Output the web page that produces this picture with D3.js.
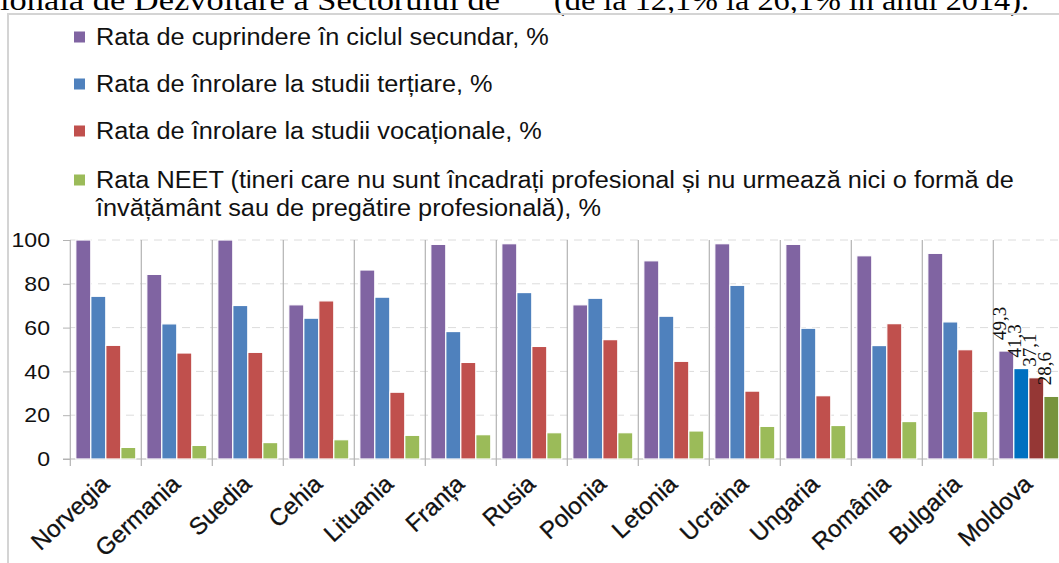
<!DOCTYPE html>
<html>
<head>
<meta charset="utf-8">
<script src="https://cdn.jsdelivr.net/npm/d3@7"></script>
<style>
  body { margin: 0; background: #fff; }
  svg { display: block; }
</style>
</head>
<body>
<svg id="chart" width="1059" height="563"></svg>
<script>
// data
var countries = ["Norvegia", "Germania", "Suedia", "Cehia", "Lituania", "Franța", "Rusia",
                 "Polonia", "Letonia", "Ucraina", "Ungaria", "România", "Bulgaria", "Moldova"];
var secundar   = [100, 84.3, 100, 70.4, 86.3, 98.0, 98.3, 70.4, 90.5, 98.3, 98.0, 92.8, 93.9, 49.3];
var tertiar    = [74.3, 61.7, 70.1, 64.3, 73.9, 58.2, 76.0, 73.4, 65.2, 79.3, 59.7, 51.8, 62.6, 41.3];
var vocational = [51.9, 48.4, 48.7, 72.2, 30.5, 44.1, 51.4, 54.5, 44.6, 31.0, 28.9, 61.8, 49.9, 37.1];
var neet       = [5.3, 6.2, 7.5, 8.8, 10.8, 11.1, 12.0, 12.0, 12.8, 14.9, 15.3, 17.1, 21.7, 28.6];

var seriesNames = [
  "Rata de cuprindere în ciclul secundar, %",
  "Rata de înrolare la studii terțiare, %",
  "Rata de înrolare la studii vocaționale, %",
  "Rata NEET (tineri care nu sunt încadrați profesional și nu urmează nici o formă de|învățământ sau de pregătire profesională), %"
];
var yTicks = [0, 20, 40, 60, 80, 100];
var highlight = "Moldova";

var colors = ["#8064A2", "#4F81BD", "#C0504D", "#9BBB59"];
var highlightColors = ["#8064A2", "#0070C0", "#953735", "#77933C"];

var sansFont = "'Liberation Sans', Arial, sans-serif";
var serifFont = "'Liberation Serif', 'DejaVu Serif', serif";
var stretch = 1.1; // the source picture is a bit wider than tall

var svg = d3.select("#chart");
var allSeries = [secundar, tertiar, vocational, neet];

// widen a text along its baseline
function widen(sel, k) {
  sel.each(function () {
    var w = this.getComputedTextLength();
    d3.select(this).attr("textLength", w * k).attr("lengthAdjust", "spacingAndGlyphs");
  });
}

// document text cut at the top
svg.append("text")
   .attr("x", 0).attr("y", 10)
   .style("font-family", serifFont)
   .style("font-size", "30px")
   .attr("textLength", 500).attr("lengthAdjust", "spacingAndGlyphs")
   .text("ională de Dezvoltare a Sectorului de");
svg.append("text")
   .attr("x", 554).attr("y", 10)
   .style("font-family", serifFont)
   .style("font-size", "30px")
   .attr("textLength", 475).attr("lengthAdjust", "spacingAndGlyphs")
   .text("(de la 12,1% la 26,1% în anul 2014).");

// frame
svg.append("path")
   .attr("d", "M8,563 V14 H1059")
   .attr("fill", "none")
   .attr("stroke", "#d4d4d4")
   .attr("stroke-width", 2);

// legend
var legendY = [37, 84, 131, 180];
var legend = svg.append("g");
seriesNames.forEach(function (name, i) {
  legend.append("rect")
        .attr("x", 74).attr("y", legendY[i] - 5.5)
        .attr("width", 11).attr("height", 11)
        .attr("fill", colors[i]);
  name.split("|").forEach(function (line, j) {
    legend.append("text")
          .attr("x", 96)
          .attr("y", legendY[i] + 8 + j * 28)
          .style("font-family", sansFont)
          .style("font-size", "23px")
          .attr("fill", "#111")
          .text(line)
          .call(widen, stretch);
  });
});

// scales
var y = d3.scaleLinear().domain([0, 100]).range([459, 240]);
var x0 = d3.scaleBand().domain(countries).range([70.3, 70.3 + 71 * countries.length]);
var x1 = d3.scaleBand().domain(d3.range(4)).range([5.5, 65.5]);

// dashed grid
svg.append("g")
   .selectAll("line")
   .data(yTicks.filter(function (t) { return t > 0; }))
   .enter()
   .append("line")
   .attr("x1", 70).attr("x2", 1059)
   .attr("y1", function (d) { return y(d); })
   .attr("y2", function (d) { return y(d); })
   .attr("stroke", "#dcdcdc")
   .attr("stroke-dasharray", "8,6");

// category separators
svg.append("g")
   .selectAll("line")
   .data(countries)
   .enter()
   .append("line")
   .attr("x1", function (d) { return x0(d); })
   .attr("x2", function (d) { return x0(d); })
   .attr("y1", y(100)).attr("y2", y(0) + 7)
   .attr("stroke", "#b3b3b3")
   .attr("stroke-width", 1.2);

// y axis
svg.append("g")
   .attr("transform", "translate(70,0)")
   .call(d3.axisLeft(y).tickValues(yTicks).tickSize(7).tickPadding(13))
   .call(function (g) { g.select(".domain").remove(); })
   .call(function (g) { g.selectAll(".tick line").attr("stroke", "#b3b3b3"); })
   .call(function (g) {
     g.selectAll(".tick text")
      .style("font-family", sansFont)
      .style("font-size", "21px")
      .attr("fill", "#111")
      .call(widen, stretch);
   });

// x axis line
svg.append("line")
   .attr("x1", 63).attr("x2", 1059)
   .attr("y1", y(0)).attr("y2", y(0))
   .attr("stroke", "#b3b3b3")
   .attr("stroke-width", 1.2);

// bars
var groups = svg.append("g")
   .selectAll("g")
   .data(countries)
   .enter()
   .append("g")
   .attr("transform", function (d) { return "translate(" + x0(d) + ",0)"; });

groups.selectAll("rect")
   .data(function (c, ci) {
     return allSeries.map(function (s, si) { return { c: c, s: si, v: s[ci] }; });
   })
   .enter()
   .append("rect")
   .attr("x", function (d) { return x1(d.s); })
   .attr("width", x1.bandwidth())
   .attr("y", function (d) { return y(d.v); })
   .attr("height", function (d) { return y(0) - y(d.v); })
   .attr("fill", function (d) { return d.c === highlight ? highlightColors[d.s] : colors[d.s]; })
   .attr("stroke", "#fff")
   .attr("stroke-width", 1.2);

// value labels on Moldova
groups.filter(function (d) { return d === highlight; })
   .selectAll("text")
   .data(function (c) {
     var ci = countries.indexOf(c);
     return allSeries.map(function (s, si) { return { s: si, v: s[ci] }; });
   })
   .enter()
   .append("text")
   .attr("transform", function (d) {
     return "translate(" + (x1(d.s) + x1.bandwidth() / 2) + "," + (y(d.v) - 11) + ") rotate(-90)";
   })
   .style("font-family", serifFont)
   .style("font-size", "19px")
   .attr("fill", "#111")
   .text(function (d) { return d3.format(".1f")(d.v).replace(".", ","); });

// x labels (slanted)
svg.append("g")
   .attr("transform", "translate(0," + y(0) + ")")
   .call(d3.axisBottom(x0).tickSize(0))
   .call(function (g) { g.select(".domain").remove(); })
   .call(function (g) {
     g.selectAll(".tick text")
      .attr("y", 0).attr("dy", 0)
      .attr("text-anchor", "end")
      .attr("transform", "translate(5,27) rotate(-43)")
      .style("font-family", sansFont)
      .style("font-size", "24px")
      .attr("fill", "#111")
      .attr("stroke", "#111")
      .attr("stroke-width", 0.3);
   });
</script>
</body>
</html>
